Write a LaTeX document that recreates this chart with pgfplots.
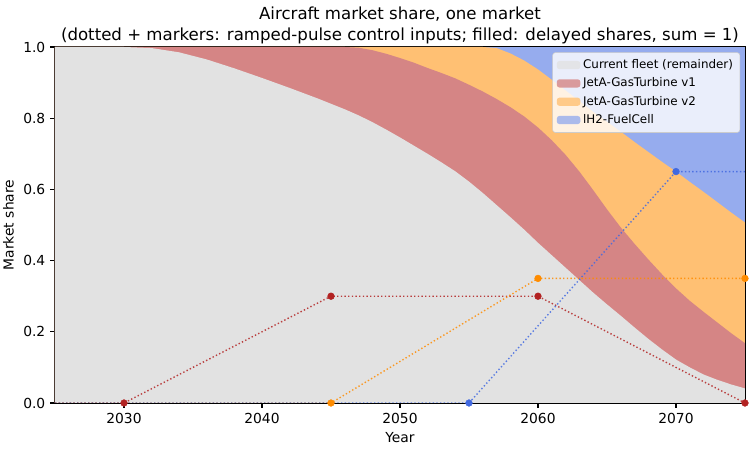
\documentclass[border=0pt]{standalone}
\usepackage{fontspec}
\setmainfont{DejaVu Sans}
\usepackage{pgfplots}
\pgfplotsset{compat=1.18}
\usepackage{pgfplotstable}

\definecolor{cfleet}{RGB}{226,226,226}
\definecolor{cv1}{RGB}{213,133,133}
\definecolor{cv2}{RGB}{255,192,115}
\definecolor{ch2}{RGB}{150,172,238}
\definecolor{firebrick}{RGB}{178,34,34}
\definecolor{darkorange}{RGB}{255,140,0}
\definecolor{royalblue}{RGB}{65,105,225}
\definecolor{legframe}{RGB}{204,204,204}

% cumulative boundaries of the delayed shares
\pgfplotstableread{
year fleet cumv1 cumv2
2025 1.000 1.000 1.000
2030 1.000 1.000 1.000
2032 0.997 1.000 1.000
2034 0.985 1.000 1.000
2036 0.965 1.000 1.000
2038 0.940 1.000 1.000
2040 0.913 1.000 1.000
2042 0.885 1.000 1.000
2044 0.856 1.000 1.000
2046 0.825 1.000 1.000
2047 0.808 0.998 1.000
2048 0.789 0.991 1.000
2049 0.768 0.981 1.000
2050 0.746 0.969 1.000
2051 0.723 0.956 1.000
2052 0.700 0.941 1.000
2053 0.676 0.927 1.000
2054 0.651 0.912 1.000
2055 0.622 0.894 1.000
2056 0.590 0.875 1.000
2057 0.556 0.854 0.997
2058 0.522 0.831 0.982
2059 0.487 0.805 0.962
2060 0.450 0.774 0.937
2061 0.415 0.738 0.908
2062 0.380 0.697 0.878
2063 0.345 0.650 0.848
2064 0.310 0.598 0.818
2065 0.277 0.544 0.790
2066 0.245 0.493 0.762
2067 0.212 0.447 0.733
2068 0.180 0.403 0.705
2069 0.150 0.361 0.677
2070 0.122 0.322 0.650
2071 0.100 0.287 0.621
2072 0.080 0.256 0.593
2073 0.065 0.226 0.564
2074 0.052 0.196 0.535
2075 0.041 0.168 0.507
}\bounds

\begin{document}
\begin{tikzpicture}
\useasboundingbox (-0.55in,-0.47in) rectangle (6.95in,4.03in);
\begin{axis}[
  at={(0,0)}, anchor=south west,
  width=6.9in, height=3.56in, scale only axis,
  xmin=2025, xmax=2075, ymin=0, ymax=1,
  xtick={2030,2040,2050,2060,2070},
  ytick={0,0.2,0.4,0.6,0.8,1},
  yticklabel style={/pgf/number format/.cd, fixed, fixed zerofill, precision=1},
  xticklabel style={/pgf/number format/1000 sep={}},
  /pgf/number format/assume math mode=true,
  tick align=outside, xtick pos=bottom, ytick pos=left,
  major tick length=3.5pt,
  tick style={line width=0.8pt, black},
  axis line style={line width=0.8pt},
  tick label style={font=\fontsize{10}{12}\selectfont},
  label style={font=\fontsize{10}{12}\selectfont},
  xlabel={Year}, ylabel={Market share},
  title={Aircraft market share, one market\\(dotted + markers: ramped-pulse control inputs; filled: delayed shares, sum = 1)},
  title style={at={(0.5,1)}, anchor=south, yshift=-7pt, align=center, font=\fontsize{12}{15}\selectfont},
  legend style={at={(0.993,0.985)}, anchor=north east, draw=legframe, rounded corners=2pt,
    fill=white, fill opacity=0.8, text opacity=1, font=\fontsize{8.6}{10}\selectfont,
    row sep=1.2pt, inner sep=3pt},
  legend cell align=left,
  area legend,
  legend image code/.code={\fill[#1] (0cm,-0.105cm) rectangle (0.6cm,0.105cm);},
]
\addlegendimage{fill=cfleet, draw=none}
\addlegendentry{Current fleet (remainder)}
\addlegendimage{fill=cv1, draw=none}
\addlegendentry{JetA-GasTurbine v1}
\addlegendimage{fill=cv2, draw=none}
\addlegendentry{JetA-GasTurbine v2}
\addlegendimage{fill=ch2, draw=none}
\addlegendentry{lH2-FuelCell}

% filled delayed shares (layered cumulative boundaries)
\addplot[draw=none, fill=ch2, forget plot] coordinates {(2025,1) (2075,1)} \closedcycle;
\addplot[draw=none, fill=cv2, forget plot] table[x=year, y=cumv2] {\bounds} \closedcycle;
\addplot[draw=none, fill=cv1, forget plot] table[x=year, y=cumv1] {\bounds} \closedcycle;
\addplot[draw=none, fill=cfleet, forget plot] table[x=year, y=fleet] {\bounds} \closedcycle;

% control inputs
\addplot[firebrick, opacity=0.85, line width=1pt, dash pattern=on 1pt off 1.65pt, forget plot]
  coordinates {(2025,0) (2030,0) (2045,0.3) (2060,0.3) (2075,0)};
\addplot[firebrick, only marks, mark=*, mark size=2.4pt, forget plot]
  coordinates {(2030,0) (2045,0.3) (2060,0.3) (2075,0)};
\addplot[darkorange, opacity=0.85, line width=1pt, dash pattern=on 1pt off 1.65pt, forget plot]
  coordinates {(2025,0) (2045,0) (2060,0.35) (2075,0.35)};
\addplot[darkorange, only marks, mark=*, mark size=2.4pt, forget plot]
  coordinates {(2045,0) (2060,0.35) (2075,0.35)};
\addplot[royalblue, opacity=0.85, line width=1pt, dash pattern=on 1pt off 1.65pt, forget plot]
  coordinates {(2025,0) (2055,0) (2070,0.65) (2075,0.65)};
\addplot[royalblue, only marks, mark=*, mark size=2.4pt, forget plot]
  coordinates {(2055,0) (2070,0.65)};
\end{axis}
\end{tikzpicture}
\end{document}
